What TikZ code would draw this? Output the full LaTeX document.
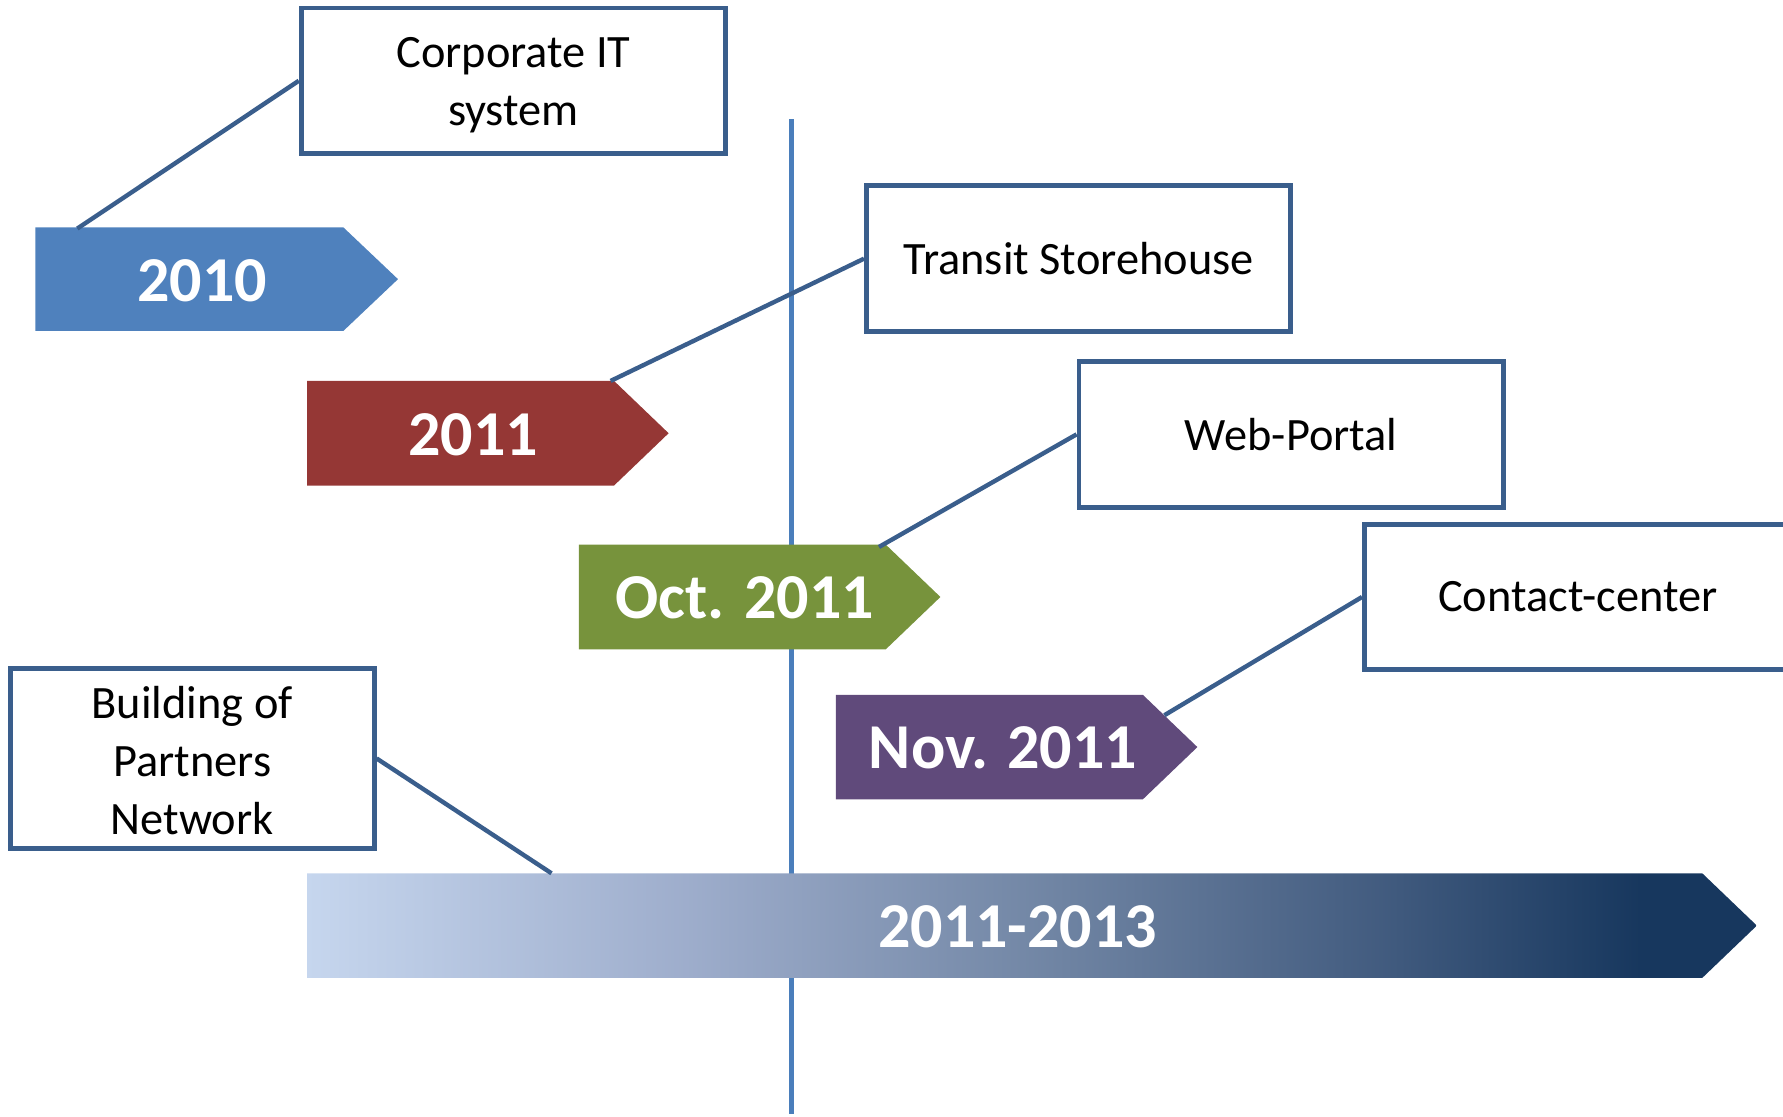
\documentclass[tikz,border=0pt]{standalone}
\usepackage{fontspec}
\setmainfont{Carlito}
\definecolor{boxblue}{RGB}{58,94,140}
\definecolor{axisblue}{RGB}{74,126,187}
\definecolor{c2010}{RGB}{79,129,189}
\definecolor{c2011}{RGB}{149,55,53}
\definecolor{coct}{RGB}{119,147,60}
\definecolor{cnov}{RGB}{96,74,123}
\pgfdeclarehorizontalshading{spanshade}{100bp}{%
  rgb(0bp)=(0.776,0.839,0.933);
  rgb(25bp)=(0.776,0.839,0.933);
  rgb(38bp)=(0.62,0.68,0.80);
  rgb(50bp)=(0.45,0.53,0.65);
  rgb(62bp)=(0.26,0.36,0.50);
  rgb(71bp)=(0.09,0.216,0.368);
  rgb(100bp)=(0.09,0.216,0.368)}
\newcommand\boxfont{\fontsize{11.6}{14.5}\selectfont}
\newcommand\yearfont{\fontsize{16}{19}\selectfont\bfseries}
\begin{document}
\begin{tikzpicture}[x=0.01cm,y=-0.01cm,
  box/.style={draw=boxblue,line width=1.2pt,fill=white,minimum width=3.73cm,minimum height=1.28cm,align=center,inner sep=0pt,font=\boxfont},
  boxtext/.style={align=center,inner sep=0pt,font=\boxfont},
  conn/.style={draw=boxblue,line width=1.1pt},
  yeartext/.style={text=white,font=\yearfont,inner sep=0pt}]
\useasboundingbox (0,0) rectangle (1568,982);
\clip (0,0) rectangle (1568,982);
% vertical axis
\coordinate (vtop) at (696,105);
\coordinate (vbot) at (696,980);
\draw[axisblue,line width=1.2pt] (vtop) -- (vbot);
% tag arrows
\fill[c2010] (31,200) -- (302,200) -- (350,245.5) -- (302,291) -- (31,291) -- cycle;
\fill[c2011] (270,335) -- (540,335) -- (588,381) -- (540,427) -- (270,427) -- cycle;
\fill[coct] (509,479) -- (779,479) -- (827,525) -- (779,571) -- (509,571) -- cycle;
\fill[cnov] (735,611) -- (1005,611) -- (1053,657) -- (1005,703) -- (735,703) -- cycle;
\shade[shading=spanshade]
  (270,768) -- (1497,768) -- (1545,814) -- (1497,860) -- (270,860) -- cycle;
\node[yeartext] (t2010) at (178,247) {2010};
\node[yeartext] (t2011) at (416,382) {2011};
\node[yeartext] (toct) at (655,526) {Oct. 2011};
\node[yeartext] (tnov) at (882,658) {Nov. 2011};
\node[yeartext] (tlong) at (895,815) {2011-2013};
\coordinate (k2010) at (68,201);
\coordinate (k2011) at (537,335);
\coordinate (koct) at (773,481);
\coordinate (knov) at (1024,629);
\coordinate (klong) at (485,768);
% boxes
\node[box] (corp) at (451.5,71) {};
\node[boxtext] (corptext) at (451.5,75) {Corporate IT\\system};
\node[box] (transit) at (948.5,227.5) {Transit Storehouse};
\node[box] (web) at (1135.5,382) {Web-Portal};
\node[box,minimum width=3.75cm] (contact) at (1387.5,525) {Contact-center};
\node[box,minimum width=3.2cm,minimum height=1.58cm] (build) at (169,667) {};
\node[boxtext] (buildtext) at (169,669) {Building of\\Partners\\Network};
% connectors
\draw[conn] (corp.west) -- (k2010);
\draw[conn] (transit.west) -- (k2011);
\draw[conn] (web.west) -- (koct);
\draw[conn] (contact.west) -- (knov);
\draw[conn] (build.east) -- (klong);
\end{tikzpicture}
\end{document}
